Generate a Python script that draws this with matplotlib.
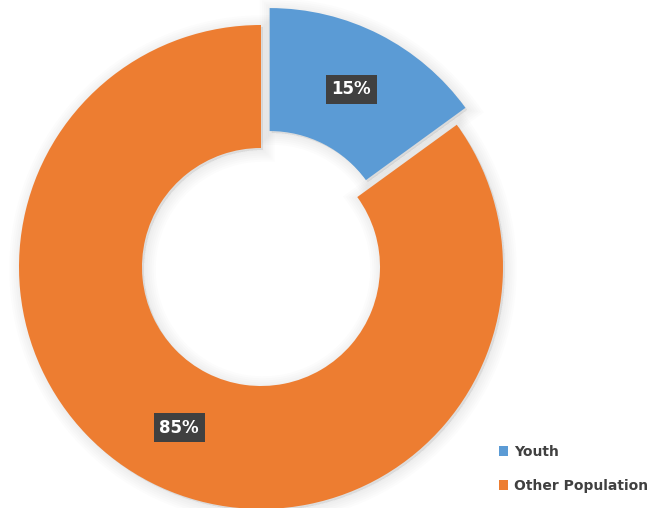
import matplotlib.pyplot as plt
import numpy as np

# Dati
labels = ["Youth", "Other Population"]
values = [15, 85]
colors = ["#5B9BD5", "#ED7D31"]
explode = [19, 0]  # pikseļos (matplotlib nobīde nav reizināta ar rādiusu)

# Ģeometrija pikseļos (652x508)
W, H = 652, 508
CENTER = (261, H - 267)
RADIUS = 242
RING = 123

fig = plt.figure(figsize=(W / 100, H / 100), dpi=100)
ax = fig.add_axes([0, 0, 1, 1])

# vienkārša ēna ap gredzenu
for k in range(6):
    ax.pie(values, explode=explode, startangle=90, counterclock=False,
           center=(CENTER[0] + 2, CENTER[1] - 2), radius=RADIUS,
           colors=["#000000"] * 2,
           wedgeprops=dict(width=RING, linewidth=2 + 3 * k, edgecolor="#000000", alpha=0.012),
           frame=True)

wedges, texts, autotexts = ax.pie(
    values, explode=explode, startangle=90, counterclock=False,
    center=CENTER, radius=RADIUS, colors=colors,
    autopct=lambda p: f"{p:.0f}%", pctdistance=0.745,
    wedgeprops=dict(width=RING, linewidth=0),
    textprops=dict(color="white", fontsize=12, fontweight="bold"),
    frame=True)

ax.set_xlim(0, W)
ax.set_ylim(0, H)
ax.set_aspect("equal")
ax.axis("off")

for t in autotexts:
    t.set_bbox(dict(boxstyle="square,pad=0.35", facecolor="#404040", edgecolor="none"))

leg = ax.legend(wedges, labels, loc="lower right", bbox_to_anchor=(1.013, 0.005),
                frameon=False, handlelength=0.65, handleheight=0.65, handletextpad=0.45,
                labelspacing=1.45, prop=dict(size=10, weight="bold"))
for t in leg.get_texts():
    t.set_color("#404040")

fig.savefig("out.png", dpi=100)
